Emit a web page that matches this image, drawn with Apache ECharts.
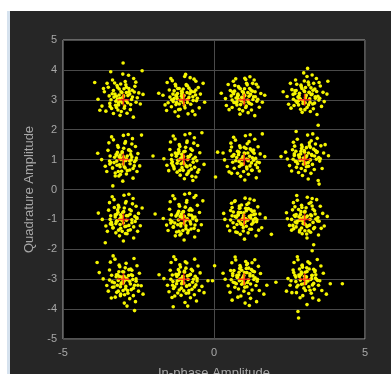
<!DOCTYPE html>
<html>
<head>
<meta charset="utf-8">
<script src="https://cdn.jsdelivr.net/npm/echarts@6/dist/echarts.min.js"></script>
<style>
  html, body { margin: 0; padding: 0; background: #ffffff; }
  #panel { position: absolute; left: 7px; top: 11px; width: 384px; height: 363px; background: #262626; border-left: 3px solid #d6e2ee; box-sizing: border-box; }
  #chart { position: absolute; left: 0; top: 0; width: 391px; height: 374px; }
</style>
</head>
<body>
<div id="panel"></div>
<div id="chart"></div>
<script>
// ideal 16-QAM constellation levels
const refI = [-3, -1, 1, 3];
const refQ = [3, 1, -1, -3];

// received symbols, one array per quadrature row (outer spread)
const rowQ3 = [
  [-3.12,3.05],[-2.71,3.32],[-3.45,2.88],[-2.94,3.61],[-3.28,3.19],[-2.58,2.92],[-3.07,2.61],[-3.63,3.27],[-2.85,3.14],[-3.21,3.48],[-2.66,3.71],[-3.39,2.71],[-3.02,3.86],[-2.49,3.23],[-3.84,3.02],[-3.16,2.83],[-2.91,2.97],[-3.54,3.55],[-2.77,2.67],[-3.31,3.09],[-2.98,3.37],[-3.11,2.48],[-2.62,3.45],[-3.47,3.13],[-2.83,3.82],[-3.25,2.95],[-3.71,2.79],[-2.54,3.07],[-3.05,3.24],[-2.88,2.55],[-3.36,3.66],[-2.73,3.01],[-3.19,3.41],[-3.95,3.58],[-2.35,3.18],[-3.01,4.23],[-3.58,2.62],[-2.67,2.42],[-3.42,3.94],[-2.96,2.79],[-3.14,3.16],[-2.81,3.28],[-3.23,2.74],[-2.44,2.86],[-3.66,3.38],[-3.09,3.53],[-2.59,3.59],[-3.33,2.54],[-2.38,3.97],[-3.78,2.65],[-2.9,3.42],[-3.17,2.9],
  [-1.08,3.12],[-0.74,3.27],[-1.35,2.94],[-0.92,3.51],[-1.21,3.21],[-0.58,2.97],[-1.12,2.68],[-1.48,3.33],[-0.83,3.08],[-1.27,3.46],[-0.66,3.69],[-1.41,2.77],[-0.97,3.78],[-0.45,3.19],[-1.69,3.15],[-1.15,2.86],[-0.89,3.01],[-1.55,3.58],[-0.71,2.62],[-1.32,3.04],[-1.02,3.36],[-1.18,2.45],[-0.52,3.41],[-1.46,3.09],[-0.79,3.74],[-1.24,2.91],[-1.62,2.83],[-0.61,3.16],[-1.05,3.24],[-0.86,2.53],[-1.38,3.64],[-0.69,2.98],[-1.2,3.38],[-0.31,2.92],[-1.83,3.22],[-0.94,3.85],[-1.57,2.64],[-0.63,2.5],[-1.43,3.71],[-0.98,2.81],[-0.36,3.55],[-1.29,2.6],[-0.77,3.3],[-1.1,2.99],[-0.49,2.73],[-1.26,3.15],[-0.88,3.47],[-1.52,2.9],[-0.6,3.62],[-1.07,3.2],
  [0.92,3.08],[1.27,3.29],[0.66,2.91],[1.08,3.55],[0.79,3.19],[1.42,2.95],[0.95,2.63],[0.54,3.31],[1.16,3.12],[0.81,3.44],[1.33,3.66],[0.6,2.74],[1.02,3.72],[1.55,3.21],[0.38,3.04],[0.88,2.84],[1.11,2.99],[0.47,3.51],[1.24,2.66],[0.73,3.06],[1.01,3.37],[0.86,2.52],[1.46,3.43],[0.57,3.13],[1.19,3.77],[0.76,2.93],[0.41,2.81],[1.37,3.1],[0.97,3.25],[1.13,2.57],[0.64,3.62],[1.29,3.01],[0.83,3.4],[1.68,3.15],[0.24,3.22],[1.05,3.68],[0.5,2.67],[1.35,2.47],[0.69,3.48],[1.07,2.79],[1.6,2.92],[0.72,3.7],[1.22,3.33],[0.9,2.98],[1.5,2.75],[0.8,3.15],[1.18,2.88],[0.99,3.18],[0.62,3.26],[1.4,3.52],
  [3.05,3.14],[3.34,3.36],[2.71,2.96],[3.12,3.59],[2.83,3.22],[3.47,2.99],[3.01,2.67],[2.58,3.34],[3.22,3.17],[2.88,3.49],[3.39,3.71],[2.65,2.81],[3.08,3.78],[3.61,3.25],[2.42,3.11],[2.95,2.88],[3.17,3.03],[2.53,3.55],[3.29,2.7],[2.78,3.09],[3.03,3.41],[2.92,2.58],[3.52,3.46],[2.62,3.18],[3.25,3.83],[2.8,2.97],[2.47,2.85],[3.44,3.12],[3.0,3.28],[3.19,2.61],[2.7,3.66],[3.36,3.05],[2.89,3.44],[3.74,3.19],[2.29,3.27],[3.1,4.05],[2.55,2.72],[3.41,2.51],[2.74,3.52],[3.13,2.83],[3.65,2.94],[2.97,3.9],[3.28,3.32],[2.86,3.02],[3.56,2.78],[3.15,3.24],[2.68,3.3],[3.33,2.89],[2.99,3.63],[3.48,3.58],[3.77,3.62],[3.45,2.15]
];
const rowQ1 = [
  [-3.1,1.06],[-2.76,1.28],[-3.42,0.9],[-2.95,1.55],[-3.24,1.17],[-2.63,0.93],[-3.06,0.61],[-3.51,1.31],[-2.87,1.12],[-3.19,1.47],[-2.7,1.7],[-3.36,0.72],[-3.0,1.81],[-2.52,1.2],[-3.72,1.0],[-3.13,0.83],[-2.92,0.97],[-3.48,1.56],[-2.79,0.65],[-3.29,1.08],[-2.99,1.38],[-3.15,0.45],[-2.6,1.44],[-3.44,1.12],[-2.84,1.84],[-3.22,0.95],[-3.6,0.78],[-2.57,1.05],[-3.04,1.23],[-2.9,0.52],[-3.33,1.66],[-2.74,0.99],[-3.17,1.41],[-3.85,1.21],[-2.46,0.79],[-3.02,0.28],[-3.55,0.6],[-2.68,0.38],[-3.39,1.76],[-2.97,0.76],[-2.4,1.82],[-3.27,0.55],[-2.81,1.33],[-3.08,1.0],[-2.55,0.6],[-3.2,1.24],[-2.93,1.6],[-3.45,0.85],[-2.72,1.52],[-3.11,1.15],
  [-1.05,1.09],[-0.72,1.31],[-1.38,0.93],[-0.9,1.57],[-1.19,1.2],[-0.57,0.96],[-1.02,0.64],[-1.46,1.34],[-0.82,1.1],[-1.15,1.5],[-0.65,1.73],[-1.33,0.75],[-0.96,1.83],[-0.47,1.23],[-1.66,1.03],[-1.09,0.86],[-0.87,1.0],[-1.44,1.59],[-0.75,0.68],[-1.25,1.11],[-0.94,1.41],[-1.12,0.48],[-0.54,1.47],[-1.4,1.15],[-0.8,1.87],[-1.17,0.98],[-1.56,0.81],[-0.62,1.08],[-1.0,1.26],[-0.86,0.55],[-1.29,1.69],[-0.69,1.02],[-1.13,1.44],[-2.02,1.12],[-0.33,0.84],[-0.98,0.36],[-1.5,0.63],[-0.6,0.42],[-1.35,1.79],[-0.92,0.79],[-0.4,1.9],[-1.22,0.58],[-0.77,1.36],[-1.04,1.03],[-0.5,0.66],[-1.16,1.27],[-0.89,1.62],[-1.4,0.88],[-0.67,1.55],[-1.07,1.18],
  [0.95,1.05],[1.28,1.27],[0.62,0.91],[1.1,1.53],[0.81,1.16],[1.43,0.92],[0.98,0.6],[0.54,1.3],[1.18,1.11],[0.85,1.46],[1.35,1.68],[0.67,0.71],[1.04,1.8],[1.53,1.19],[0.35,0.99],[0.91,0.82],[1.13,0.96],[0.56,1.55],[1.25,0.64],[0.75,1.07],[1.06,1.37],[0.88,0.44],[1.46,1.43],[0.6,1.11],[1.2,1.83],[0.83,0.94],[0.44,0.77],[1.38,1.04],[1.0,1.22],[1.14,0.51],[0.71,1.65],[1.31,0.98],[0.87,1.4],[1.68,1.1],[0.3,1.22],[1.02,0.32],[0.5,0.59],[1.4,0.39],[0.65,1.75],[1.08,0.75],[1.6,1.86],[0.78,0.54],[1.23,1.32],[0.93,1.0],[1.5,0.62],[0.82,1.25],[1.16,1.6],[0.97,0.85],[0.58,1.42],[1.33,1.21],[0.12,1.25],[0.05,0.42],
  [3.04,1.08],[3.36,1.3],[2.7,0.94],[3.16,1.56],[2.87,1.19],[3.5,0.95],[3.02,0.63],[2.6,1.33],[3.24,1.14],[2.9,1.49],[3.42,1.71],[2.73,0.74],[3.1,1.82],[3.63,1.22],[2.43,1.02],[2.96,0.85],[3.19,0.99],[2.63,1.58],[3.32,0.67],[2.82,1.1],[3.06,1.4],[2.93,0.47],[3.54,1.46],[2.66,1.14],[3.27,1.86],[2.85,0.97],[2.5,0.8],[3.47,1.07],[3.0,1.25],[3.21,0.54],[2.76,1.68],[3.39,1.01],[2.92,1.43],[3.79,1.13],[2.37,1.25],[3.12,0.35],[2.57,0.62],[3.45,0.3],[2.72,1.94],[3.13,0.78],[3.68,1.5],[2.8,0.57],[3.3,1.35],[2.98,1.03],[3.58,0.7],[2.88,1.28],[3.22,1.63],[3.05,0.88],[2.67,1.45],[3.4,1.24],[3.48,0.18],[2.22,1.1]
];
const rowQm1 = [
  [-3.08,-0.94],[-2.74,-0.71],[-3.4,-1.1],[-2.93,-0.45],[-3.22,-0.83],[-2.61,-1.07],[-3.04,-1.4],[-3.49,-0.69],[-2.85,-0.88],[-3.17,-0.53],[-2.68,-0.3],[-3.34,-1.28],[-2.98,-0.19],[-2.5,-0.8],[-3.7,-1.0],[-3.11,-1.17],[-2.9,-1.03],[-3.46,-0.44],[-2.77,-1.35],[-3.27,-0.92],[-2.97,-0.62],[-3.13,-1.55],[-2.58,-0.56],[-3.42,-0.88],[-2.82,-0.16],[-3.2,-1.05],[-3.58,-1.22],[-2.55,-0.95],[-3.02,-0.77],[-2.88,-1.48],[-3.31,-0.34],[-2.72,-1.01],[-3.15,-0.59],[-3.83,-0.79],[-2.44,-1.21],[-3.0,-1.72],[-3.53,-1.4],[-2.66,-1.62],[-3.37,-0.24],[-2.95,-1.24],[-2.38,-0.62],[-3.25,-1.45],[-2.79,-0.67],[-3.06,-1.0],[-2.53,-1.4],[-3.18,-0.76],[-2.91,-0.4],[-3.43,-1.15],[-2.7,-0.48],[-3.09,-0.85],[-3.35,0.12],[-3.6,-1.78],
  [-1.06,-0.91],[-0.73,-0.69],[-1.39,-1.07],[-0.91,-0.43],[-1.2,-0.8],[-0.58,-1.04],[-1.03,-1.37],[-1.47,-0.66],[-0.83,-0.85],[-1.16,-0.5],[-0.66,-0.27],[-1.34,-1.25],[-0.97,-0.16],[-0.48,-0.77],[-1.68,-0.97],[-1.1,-1.14],[-0.88,-1.0],[-1.45,-0.41],[-0.76,-1.32],[-1.26,-0.89],[-0.95,-0.59],[-1.13,-1.52],[-0.55,-0.53],[-1.41,-0.85],[-0.81,-0.13],[-1.18,-1.02],[-1.57,-1.19],[-0.63,-0.92],[-1.01,-0.74],[-0.87,-1.45],[-1.3,-0.31],[-0.7,-0.98],[-1.14,-0.56],[-1.95,-0.82],[-0.42,-1.18],[-0.99,-1.69],[-1.52,-1.37],[-0.64,-1.59],[-1.36,-0.21],[-0.93,-1.21],[-0.37,-0.38],[-1.24,-1.42],[-0.78,-0.64],[-1.05,-0.97],[-0.52,-1.37],[-1.17,-0.73],[-0.9,-0.37],[-1.43,-1.12],[-0.6,-0.2],[-1.08,-0.82],[-0.7,0.3],
  [0.96,-0.95],[1.27,-0.73],[0.63,-1.11],[1.09,-0.5],[0.8,-0.86],[1.41,-1.08],[0.97,-1.39],[0.55,-0.7],[1.17,-0.9],[0.84,-0.55],[1.33,-0.36],[0.67,-1.27],[1.03,-0.29],[1.52,-0.82],[0.36,-1.0],[0.9,-1.16],[1.12,-1.02],[0.58,-0.46],[1.24,-1.33],[0.74,-0.93],[1.05,-0.63],[0.87,-1.5],[1.45,-0.58],[0.6,-0.88],[1.19,-0.32],[0.82,-1.05],[0.45,-1.22],[1.37,-0.96],[0.99,-0.78],[1.13,-1.45],[0.7,-0.38],[1.3,-1.01],[0.86,-0.62],[1.7,-0.95],[0.32,-0.8],[1.01,-1.66],[0.52,-1.38],[1.39,-1.55],[0.68,-0.4],[1.07,-1.23],[1.58,-1.28],[0.77,-1.44],[1.22,-0.68],[0.93,-1.0],[1.48,-1.36],[0.81,-0.76],[1.15,-0.45],[0.95,-1.18],[0.6,-0.6],[1.32,-0.84],[1.9,-1.5],
  [3.05,-0.93],[3.33,-0.71],[2.69,-1.09],[3.15,-0.47],[2.86,-0.84],[3.48,-1.06],[3.01,-1.38],[2.6,-0.68],[3.23,-0.88],[2.9,-0.53],[3.4,-0.34],[2.72,-1.25],[3.09,-0.26],[3.6,-0.8],[2.43,-0.98],[2.95,-1.14],[3.18,-1.0],[2.63,-0.44],[3.3,-1.31],[2.81,-0.91],[3.05,-0.61],[2.92,-1.48],[3.52,-0.56],[2.66,-0.86],[3.25,-0.3],[2.84,-1.03],[2.5,-1.2],[3.44,-0.94],[3.0,-0.76],[3.2,-1.43],[2.76,-0.36],[3.37,-0.99],[2.91,-0.6],[3.75,-0.9],[2.4,-0.78],[3.08,-1.62],[2.57,-1.36],[3.46,-1.52],[2.74,-0.2],[3.12,-1.21],[3.65,-1.22],[2.83,-1.42],[3.28,-0.66],[2.98,-0.98],[3.55,-1.3],[2.88,-0.74],[3.21,-0.43],[3.02,-1.16],[2.68,-0.58],[3.35,-0.82],[3.25,-2.05],[3.3,-1.85]
];
const rowQm3 = [
  [-3.05,-2.93],[-2.72,-2.7],[-3.37,-3.09],[-2.91,-2.47],[-3.19,-2.85],[-2.58,-3.07],[-3.01,-3.38],[-3.46,-2.69],[-2.83,-2.88],[-3.14,-2.53],[-2.65,-2.31],[-3.31,-3.26],[-2.96,-3.52],[-2.47,-2.8],[-3.67,-2.99],[-3.08,-3.16],[-2.87,-3.02],[-3.43,-2.43],[-2.74,-3.35],[-3.24,-2.92],[-2.94,-2.62],[-3.1,-3.55],[-2.55,-2.55],[-3.39,-2.87],[-2.79,-3.65],[-3.17,-3.04],[-3.55,-3.21],[-2.52,-3.2],[-2.99,-2.76],[-2.85,-3.47],[-3.28,-2.33],[-2.69,-3.01],[-3.12,-2.58],[-3.8,-2.78],[-2.41,-3.22],[-2.97,-3.8],[-3.5,-3.4],[-2.6,-3.75],[-3.34,-2.22],[-2.92,-3.24],[-2.35,-3.5],[-3.22,-3.44],[-2.76,-2.66],[-3.03,-3.0],[-2.5,-3.4],[-3.15,-2.75],[-2.88,-3.9],[-3.4,-3.63],[-2.67,-3.55],[-3.06,-3.12],[-3.87,-2.44],[-2.63,-4.05],
  [-1.04,-2.92],[-0.71,-2.72],[-1.36,-3.08],[-0.9,-2.46],[-1.18,-2.84],[-0.56,-3.06],[-1.0,-3.39],[-1.45,-2.7],[-0.82,-2.87],[-1.13,-2.52],[-0.64,-2.33],[-1.3,-3.25],[-0.95,-2.42],[-0.46,-2.79],[-1.66,-2.98],[-1.07,-3.15],[-0.86,-3.01],[-1.42,-2.44],[-0.73,-3.34],[-1.23,-2.91],[-0.93,-2.63],[-1.09,-3.54],[-0.53,-2.56],[-1.38,-2.86],[-0.78,-3.62],[-1.16,-3.03],[-1.54,-3.2],[-0.6,-3.19],[-0.98,-2.77],[-0.84,-3.46],[-1.27,-2.34],[-0.68,-3.0],[-1.11,-2.59],[-1.82,-2.85],[-0.4,-3.24],[-0.96,-3.78],[-1.49,-3.42],[-0.58,-3.73],[-1.33,-2.25],[-0.91,-3.23],[-0.33,-3.45],[-1.2,-3.46],[-0.75,-2.67],[-1.02,-2.99],[-0.49,-3.38],[-1.14,-2.76],[-0.87,-3.9],[-1.39,-3.61],[-0.65,-3.52],[-1.05,-3.11],[-1.35,-3.92],[-0.2,-3.05],
  [0.97,-2.94],[1.29,-2.73],[0.64,-3.1],[1.11,-2.48],[0.82,-2.86],[1.43,-3.07],[0.99,-3.4],[0.55,-2.71],[1.19,-2.89],[0.86,-2.54],[1.35,-2.35],[0.69,-3.27],[1.05,-2.41],[1.54,-2.81],[0.37,-3.0],[0.92,-3.17],[1.14,-3.03],[0.59,-2.45],[1.26,-3.36],[0.76,-2.93],[1.07,-2.64],[0.89,-3.56],[1.47,-2.57],[0.62,-2.88],[1.21,-3.64],[0.84,-3.05],[0.47,-3.22],[1.39,-3.21],[1.01,-2.78],[1.15,-3.48],[0.72,-2.36],[1.32,-3.01],[0.88,-2.6],[1.75,-3.2],[0.3,-2.8],[1.03,-3.8],[0.53,-3.44],[1.41,-3.75],[0.7,-2.26],[1.09,-3.25],[1.65,-3.5],[0.79,-3.6],[1.24,-2.68],[0.95,-3.0],[1.5,-3.38],[0.83,-2.77],[1.17,-3.88],[0.6,-3.7],[1.36,-2.95],[1.0,-3.15],[0.02,-2.55],[-0.05,-3.05],
  [3.06,-2.92],[3.35,-2.71],[2.71,-3.08],[3.17,-2.47],[2.88,-2.84],[3.5,-3.05],[3.03,-3.38],[2.62,-2.69],[3.25,-2.87],[2.92,-2.53],[3.42,-2.34],[2.74,-3.26],[3.11,-2.42],[3.62,-2.8],[2.45,-2.98],[2.97,-3.15],[3.2,-3.01],[2.65,-2.44],[3.32,-3.34],[2.83,-2.91],[3.07,-2.62],[2.94,-3.55],[3.54,-2.56],[2.68,-2.87],[3.27,-3.63],[2.86,-3.03],[2.52,-3.2],[3.46,-3.2],[3.02,-2.77],[3.22,-3.47],[2.78,-2.35],[3.39,-3.0],[2.93,-2.6],[3.85,-3.15],[2.4,-3.4],[3.08,-3.85],[2.58,-3.45],[3.47,-3.7],[2.76,-2.25],[3.14,-3.25],[3.72,-3.5],[2.85,-3.62],[3.3,-2.67],[3.0,-3.0],[3.57,-3.38],[2.89,-2.76],[2.8,-4.3],[2.78,-4.08],[3.36,-2.96],[3.04,-3.12],[4.25,-3.15],[2.05,-3.1]
];

// received symbols close to each constellation point (dense cores)
const coreQ3 = [
  [-3.02,3.08],[-2.86,2.9],[-3.2,3.02],[-3.08,3.27],[-2.79,3.19],[-3.33,3.31],[-2.97,2.72],[-3.26,2.82],[-2.7,3.09],[-3.41,3.0],[-3.14,3.36],[-2.92,3.5],[-3.04,2.9],[-2.82,3.38],[-3.37,3.2],[-3.18,2.66],[-2.64,3.26],[-3.5,3.42],[-2.99,3.13],[-3.23,3.12],[-2.76,2.84],[-3.1,2.96],[-2.9,3.24],[-3.44,2.78],[-3.29,3.56],
  [-1.03,3.06],[-0.88,2.91],[-1.22,3.04],[-1.07,3.29],[-0.8,3.2],[-1.32,3.3],[-0.96,2.73],[-1.26,2.84],[-0.7,3.1],[-1.4,3.0],[-1.15,3.38],[-0.91,3.48],[-1.02,2.9],[-0.83,3.39],[-1.36,3.19],[-1.17,2.67],[-0.65,3.27],[-0.55,3.05],[-0.99,3.14],[-1.24,3.12],[-0.77,2.85],[-1.1,2.97],[-0.89,3.24],[-0.6,3.33],[-1.28,3.52],
  [0.98,3.06],[1.14,2.92],[0.8,3.03],[0.94,3.28],[1.21,3.18],[0.68,3.29],[1.05,2.74],[0.76,2.83],[1.31,3.1],[0.6,2.99],[0.87,3.37],[1.1,3.5],[0.99,2.91],[1.18,3.38],[0.65,3.2],[0.84,2.68],[1.36,3.27],[1.45,3.02],[1.02,3.14],[0.78,3.13],[1.24,2.85],[0.9,2.97],[1.12,3.24],[0.71,2.9],[1.28,3.55],
  [3.03,3.07],[3.18,2.92],[2.84,3.04],[2.98,3.3],[3.25,3.19],[2.72,3.31],[3.08,2.74],[2.8,2.83],[3.35,3.1],[2.63,3.02],[2.91,3.38],[3.14,3.5],[3.02,2.9],[3.21,3.4],[2.68,3.21],[2.87,2.68],[3.4,3.28],[3.5,3.05],[3.05,3.15],[2.82,3.14],[3.27,2.86],[2.94,2.97],[3.15,3.25],[2.75,2.91],[3.3,3.55]
];
const coreQ1 = [
  [-2.98,0.95],[-3.14,1.09],[-2.8,0.97],[-2.94,0.72],[-3.21,0.81],[-2.68,0.7],[-3.04,1.26],[-2.76,1.17],[-3.31,0.9],[-2.59,0.98],[-2.87,0.63],[-3.1,0.5],[-2.99,1.09],[-3.17,0.6],[-2.64,0.79],[-2.83,1.32],[-3.36,0.72],[-3.46,0.95],[-3.01,0.85],[-2.78,0.86],[-3.23,1.15],[-2.9,1.03],[-3.11,0.76],[-2.72,1.09],[-3.27,0.45],
  [-1.02,0.92],[-0.86,1.1],[-1.2,0.98],[-1.06,0.73],[-0.79,0.81],[-1.32,0.69],[-0.96,1.28],[-1.24,1.18],[-0.69,0.91],[-1.41,1.0],[-1.13,0.64],[-0.9,0.5],[-1.01,1.1],[-0.83,0.62],[-1.36,0.8],[-1.17,1.34],[-0.64,0.74],[-0.54,0.58],[-0.99,0.87],[-1.22,0.88],[-0.77,1.16],[-1.1,1.04],[-0.89,0.76],[-1.28,1.22],[-0.73,0.44],
  [1.08,1.02],[0.9,0.86],[1.02,1.2],[1.27,1.06],[1.19,0.79],[1.31,1.32],[0.72,0.96],[0.82,1.24],[1.09,0.69],[1.0,1.41],[0.64,1.13],[1.5,0.9],[0.9,1.01],[1.38,0.83],[1.2,1.36],[0.66,1.17],[1.26,0.64],[0.58,0.54],[1.13,0.99],[1.12,1.22],[0.84,0.77],[0.96,1.1],[1.24,0.89],[0.78,1.28],[1.44,0.73],
  [2.96,1.05],[3.12,0.9],[2.83,1.07],[2.99,1.3],[3.23,1.17],[2.71,1.28],[3.06,0.76],[2.77,0.86],[3.33,1.12],[2.62,1.01],[2.9,1.37],[3.16,1.47],[3.01,0.89],[3.19,1.41],[2.66,1.19],[2.89,0.7],[3.42,1.26],[3.52,1.03],[3.07,1.13],[2.8,1.15],[3.26,0.84],[2.95,0.98],[3.13,1.22],[2.74,0.93],[3.36,1.52]
];
const coreQm1 = [
  [-3.05,-1.03],[-2.9,-0.88],[-3.23,-1.06],[-3.09,-1.3],[-2.82,-1.2],[-3.35,-1.29],[-2.99,-0.74],[-3.27,-0.85],[-2.72,-1.11],[-3.44,-1.0],[-3.16,-1.36],[-2.93,-1.47],[-3.04,-0.91],[-2.84,-1.37],[-3.38,-1.18],[-3.19,-0.68],[-2.66,-1.25],[-2.56,-0.97],[-3.0,-1.12],[-3.25,-1.14],[-2.78,-0.83],[-3.12,-0.99],[-2.91,-1.23],[-2.62,-0.9],[-3.3,-0.6],
  [-0.96,-1.05],[-1.12,-0.9],[-0.79,-1.07],[-0.93,-1.31],[-1.2,-1.18],[-0.66,-1.3],[-1.03,-0.75],[-0.75,-0.86],[-1.3,-1.12],[-0.58,-1.02],[-0.85,-1.37],[-1.09,-1.48],[-0.98,-0.9],[-1.16,-1.4],[-0.63,-1.19],[-0.82,-0.69],[-1.35,-1.26],[-1.45,-1.02],[-1.0,-1.13],[-0.77,-1.15],[-1.22,-0.84],[-0.89,-0.98],[-1.1,-1.22],[-0.7,-0.92],[-1.28,-1.55],
  [1.04,-0.97],[0.88,-1.12],[1.21,-0.95],[1.07,-0.71],[0.8,-0.83],[1.33,-0.72],[0.97,-1.27],[1.25,-1.16],[0.7,-0.9],[1.42,-1.01],[1.14,-0.64],[0.91,-0.52],[1.02,-1.1],[0.84,-0.63],[1.37,-0.82],[1.18,-1.33],[0.64,-0.75],[0.55,-1.02],[0.98,-0.87],[1.23,-0.86],[0.76,-1.17],[1.1,-1.03],[0.89,-0.77],[1.3,-1.1],[0.72,-1.42],
  [2.93,-1.04],[3.09,-0.89],[2.76,-1.06],[2.9,-1.29],[3.17,-1.19],[2.64,-1.31],[3.01,-0.73],[2.72,-0.84],[3.28,-1.1],[2.57,-1.0],[2.84,-1.36],[3.07,-1.49],[2.96,-0.92],[3.14,-1.38],[2.61,-1.2],[2.8,-0.67],[3.33,-1.27],[3.43,-1.05],[2.98,-1.14],[2.74,-1.12],[3.2,-0.85],[2.87,-0.97],[3.08,-1.24],[2.69,-0.9],[3.25,-0.55]
];
const coreQm3 = [
  [-2.97,-3.06],[-3.13,-2.91],[-2.79,-3.08],[-2.93,-3.32],[-3.2,-3.2],[-2.67,-3.3],[-3.02,-2.75],[-2.74,-2.85],[-3.3,-3.12],[-2.58,-2.99],[-2.86,-3.38],[-3.09,-3.5],[-2.98,-2.9],[-3.17,-3.4],[-2.63,-3.2],[-2.82,-2.68],[-3.36,-3.27],[-3.46,-3.03],[-3.0,-3.13],[-2.77,-3.16],[-3.23,-2.85],[-2.9,-2.97],[-3.1,-3.25],[-2.7,-2.88],[-3.27,-3.6],
  [-1.04,-3.03],[-0.88,-2.89],[-1.22,-3.06],[-1.08,-3.3],[-0.81,-3.19],[-1.34,-3.31],[-0.98,-2.73],[-1.26,-2.84],[-0.71,-3.1],[-1.43,-3.0],[-1.15,-3.36],[-0.92,-3.47],[-1.03,-2.91],[-0.83,-3.38],[-1.37,-3.2],[-1.18,-2.68],[-0.65,-3.26],[-0.56,-2.98],[-1.0,-3.13],[-1.24,-3.15],[-0.78,-2.84],[-1.11,-2.99],[-0.9,-3.23],[-0.62,-2.9],[-1.3,-3.56],
  [0.95,-2.96],[1.11,-3.11],[0.78,-2.94],[0.92,-2.7],[1.19,-2.82],[0.66,-2.71],[1.02,-3.27],[0.74,-3.15],[1.29,-2.89],[0.57,-3.02],[0.85,-2.64],[1.08,-2.52],[0.97,-3.1],[1.15,-2.63],[0.62,-2.81],[0.81,-3.33],[1.34,-2.75],[1.44,-3.0],[0.99,-2.88],[0.76,-2.87],[1.21,-3.16],[0.88,-3.03],[1.09,-2.78],[0.69,-3.12],[1.26,-2.45],
  [3.06,-3.02],[2.9,-3.17],[3.23,-2.98],[3.08,-2.74],[2.81,-2.86],[3.34,-2.75],[2.98,-3.3],[3.26,-3.19],[2.71,-2.93],[3.43,-3.04],[3.15,-2.66],[2.92,-2.55],[3.03,-3.14],[2.83,-2.66],[3.37,-2.85],[3.18,-3.37],[2.64,-2.78],[2.55,-3.05],[3.0,-2.9],[3.24,-2.88],[2.78,-3.2],[3.11,-3.06],[2.9,-2.8],[3.3,-3.14],[2.73,-3.45]
];

const xTicks = [-5, 0, 5];

const chart = echarts.init(document.getElementById('chart'));

const received = [].concat(rowQ3, rowQ1, rowQm1, rowQm3, coreQ3, coreQ1, coreQm1, coreQm3);
const reference = [];
refQ.forEach((q) => refI.forEach((i) => reference.push([i, q])));

const font = 'Liberation Sans, Arial, sans-serif';
const labelStyle = { color: '#a8a8a8', fontSize: 11, fontFamily: font };

const option = {
  backgroundColor: 'transparent',
  animation: false,
  grid: {
    left: 63,
    right: 26,
    top: 40,
    bottom: 35,
    outerBoundsMode: 'none',
    containLabel: false,
    show: true,
    backgroundColor: '#000000',
    borderColor: '#a6a6a6',
    borderWidth: 1,
  },
  xAxis: {
    type: 'value',
    min: -5,
    max: 5,
    interval: 5,
    name: 'In-phase Amplitude',
    nameLocation: 'middle',
    nameGap: 28,
    nameTextStyle: { color: '#a8a8a8', fontSize: 13, fontFamily: font },
    axisLine: { show: false },
    axisTick: { show: false },
    axisLabel: Object.assign({ margin: 8, formatter: (v) => (xTicks.includes(v) ? String(v) : '') }, labelStyle),
    splitLine: { show: true, lineStyle: { color: '#4a4a4a', width: 1 } },
  },
  yAxis: {
    type: 'value',
    min: -5,
    max: 5,
    interval: 1,
    name: 'Quadrature Amplitude',
    nameLocation: 'middle',
    nameGap: 24,
    nameTextStyle: { color: '#a8a8a8', fontSize: 13, fontFamily: font },
    axisLine: { show: false },
    axisTick: { show: false },
    axisLabel: Object.assign({ margin: 6 }, labelStyle),
    splitLine: { show: true, lineStyle: { color: '#4a4a4a', width: 1 } },
  },
  series: [
    {
      name: 'Received',
      type: 'scatter',
      data: received,
      symbol: 'circle',
      symbolSize: 3.6,
      itemStyle: { color: '#f5f500', opacity: 1 },
      silent: true,
      z: 2,
    },
    {
      name: 'Reference',
      type: 'scatter',
      data: reference,
      symbol: 'path://M0,5L10,5M5,0L5,10',
      symbolSize: 12,
      itemStyle: { color: 'none', borderColor: '#ff1a1a', borderWidth: 1.5 },
      z: 10,
      silent: true,
    },
  ],
};

chart.setOption(option);
</script>
</body>
</html>
